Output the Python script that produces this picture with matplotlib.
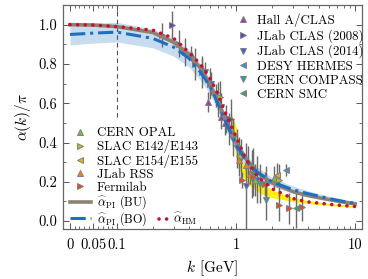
import numpy as np
import matplotlib
matplotlib.use("Agg")
import matplotlib.pyplot as plt
from matplotlib.lines import Line2D

plt.rcParams['font.family'] = ['cmr10', 'DejaVu Serif']
plt.rcParams['mathtext.fontset'] = 'cm'
plt.rcParams['axes.formatter.use_mathtext'] = True

# --- courbes theoriques ---
k_curve = [0, 0.05, 0.1, 0.2, 0.3, 0.4, 0.5, 0.6, 0.7, 0.8, 0.9, 1.0, 1.2, 1.5, 2, 3, 4, 6, 8, 10]
alpha_hm = [1.0, 0.998, 0.99, 0.972, 0.93, 0.86, 0.80, 0.73, 0.65, 0.56, 0.49, 0.43, 0.32, 0.23, 0.165, 0.115, 0.098, 0.086, 0.079, 0.075]
alpha_bu = [1.0, 0.998, 0.99, 0.96, 0.91, 0.85, 0.78, 0.70, 0.61, 0.53, 0.46, 0.40, 0.32, 0.25, 0.195, 0.15, 0.13, 0.11, 0.097, 0.088]
alpha_bo = [0.95, 0.957, 0.962, 0.93, 0.885, 0.83, 0.76, 0.69, 0.60, 0.52, 0.45, 0.39, 0.31, 0.25, 0.20, 0.16, 0.14, 0.115, 0.10, 0.09]
bo_half = [0.053, 0.051, 0.05, 0.048, 0.046, 0.044, 0.042, 0.04, 0.038, 0.036, 0.035, 0.034, 0.03, 0.026, 0.022, 0.018, 0.015, 0.012, 0.011, 0.01]

# bande jaune
k_yel = [0.9, 0.95, 1.0, 1.1, 1.3, 1.6, 2, 3, 4, 6, 10]
yel_lo = [0.50, 0.42, 0.31, 0.24, 0.18, 0.14, 0.12, 0.10, 0.09, 0.08, 0.068]
yel_hi = [0.56, 0.52, 0.48, 0.36, 0.27, 0.20, 0.16, 0.12, 0.105, 0.09, 0.08]

# --- donnees experimentales ---
hall_k = [0.42, 0.52, 0.58, 0.74, 0.80, 0.95]
hall_a = [0.853, 0.78, 0.605, 0.53, 0.50, 0.45]
hall_e = [0.04, 0.05, 0.05, 0.06, 0.06, 0.07]

clas08_k = [0.24, 0.29, 0.33, 0.37, 0.45, 0.52, 0.60, 0.70, 0.91]
clas08_a = [0.946, 0.997, 0.904, 0.862, 0.80, 0.76, 0.70, 0.62, 0.52]
clas08_e = [0.06, 0.07, 0.07, 0.07, 0.08, 0.08, 0.08, 0.09, 0.10]

clas14_k = [0.55, 0.62, 0.68, 0.75, 0.82, 0.88, 0.95, 1.02, 1.10, 1.22, 1.35, 1.50]
clas14_a = [0.76, 0.70, 0.64, 0.58, 0.52, 0.47, 0.42, 0.37, 0.32, 0.18, 0.24, 0.21]
clas14_e = [0.05, 0.06, 0.06, 0.07, 0.07, 0.08, 0.09, 0.10, 0.10, 0.22, 0.12, 0.12]

hermes_k = [1.8, 2.6]
hermes_a = [0.20, 0.26]
hermes_e = [0.08, 0.03]

compass_k = [1.6, 1.77]
compass_a = [0.19, 0.107]
compass_e = [0.10, 0.10]

smc_k = [1.4, 3.16]
smc_a = [0.25, 0.065]
smc_e = [0.12, 0.10]

opal_k = [1.45, 2.1]
opal_a = [0.21, 0.22]
opal_e = [0.08, 0.06]

e142_k = [0.73, 1.25, 2.3]
e142_a = [0.632, 0.28, 0.21]
e142_e = [0.08, 0.10, 0.08]

e154_k = [1.05, 2.2]
e154_a = [0.33, 0.234]
e154_e = [0.10, 0.06]

rss_k = [1.06, 1.2, 1.3]
rss_a = [0.31, 0.285, 0.24]
rss_e = [0.04, 0.05, 0.05]

ferm_k = [1.13, 1.4, 1.75, 2.28, 2.8, 3.57]
ferm_a = [0.209, 0.225, 0.19, 0.081, 0.065, 0.073]
ferm_e = [0.04, 0.05, 0.06, 0.08, 0.08, 0.07]

exp_haut = [
    ("Hall A/CLAS",      "^", "#9b3fa0", hall_k, hall_a, hall_e),
    ("JLab CLAS (2008)", ">", "#6a3fb5", clas08_k, clas08_a, clas08_e),
    ("JLab CLAS (2014)", "v", "#3f5fcf", clas14_k, clas14_a, clas14_e),
    ("DESY HERMES",      "<", "#4a90d0", hermes_k, hermes_a, hermes_e),
    ("CERN COMPASS",     "v", "#2aa0a0", compass_k, compass_a, compass_e),
    ("CERN SMC",         "<", "#3fa060", smc_k, smc_a, smc_e),
]
exp_bas = [
    ("CERN OPAL",        "^", "#7ac040", opal_k, opal_a, opal_e),
    ("SLAC E142/E143",   ">", "#b8c020", e142_k, e142_a, e142_e),
    ("SLAC E154/E155",   "<", "#e0b020", e154_k, e154_a, e154_e),
    ("JLab RSS",         "^", "#f08020", rss_k, rss_a, rss_e),
    ("Fermilab",         ">", "#e84a1a", ferm_k, ferm_a, ferm_e),
]

fig = plt.figure(figsize=(3.68, 2.79), dpi=100)
ax = fig.add_axes([63/368, 50/279, 298.5/368, 224/279])
ax.set_xscale('symlog', linthresh=0.1, linscale=0.355)

kc = np.array(k_curve)
bo = np.array(alpha_bo)
bh = np.array(bo_half)

ax.fill_between(k_yel, yel_lo, yel_hi, color='#ffee10', lw=0, zorder=1)
ax.fill_between(kc, bo - bh, bo + bh, color='#c8dcf0', lw=0, zorder=1.5)

ax.axvline(0.1, ymin=0.5, ymax=1, color='#505050', ls=(0, (4, 3)), lw=0.8, zorder=2)

mec = '#808080'


def poser(liste):
    handles = []
    for nom, m, c, kk, aa, ee in liste:
        ax.errorbar(kk, aa, yerr=ee, fmt='none', ecolor='#6a6a6a', elinewidth=1.0, zorder=2.5)
        ax.plot(kk, aa, ls='none', marker=m, ms=4.8, mfc=c, mec=mec, mew=0.7, zorder=3)
        handles.append(Line2D([], [], ls='none', marker=m, ms=4.8, mfc=c, mec=mec,
                              mew=0.7, label=nom))
    return handles


handles_haut = poser(exp_haut)
handles_bas = poser(exp_bas)

l_bu, = ax.plot(kc, alpha_bu, color='#8c8272', lw=2.6, zorder=4,
                label=r'$\widehat{\alpha}_{\rm PI}$ (BU)')
l_bo, = ax.plot(kc, alpha_bo, color='#1f6fc0', lw=2.2, ls=(0, (5, 1.6, 1, 1.6)), zorder=4.5,
                label=r'$\widehat{\alpha}_{\rm PI}$ (BO)')
l_hm, = ax.plot(kc, alpha_hm, color='#c8102e', lw=2.6, ls=(0, (0.01, 2.1)),
                dash_capstyle='round', zorder=5, label=r'$\widehat{\alpha}_{\rm HM}$')

ax.set_xlim(-0.0149, 11.3)
ax.set_ylim(-0.04, 1.1)

ax.set_xticks([0, 0.05, 0.1, 1, 10])
ax.set_xticklabels(['0', '0.05', '0.1', '1', '10'])
minx = [i * 0.01 for i in range(1, 10)] + [i * 0.1 for i in range(2, 10)] + list(range(2, 10))
ax.set_xticks(minx, minor=True)
ax.set_yticks([0.0, 0.2, 0.4, 0.6, 0.8, 1.0])
ax.set_yticklabels(['0.0', '0.2', '0.4', '0.6', '0.8', '1.0'])
ax.set_yticks([0.1, 0.3, 0.5, 0.7, 0.9], minor=True)

ax.tick_params(which='both', direction='in', top=True, right=True, color='#555555',
               labelsize=10.5)
ax.tick_params(axis='x', pad=7)
ax.tick_params(axis='y', pad=4)
ax.tick_params(which='major', length=4, width=0.7)
ax.tick_params(which='minor', length=2, width=0.6)
for s in ax.spines.values():
    s.set_color('#666666')
    s.set_linewidth(0.9)

ax.set_xlabel(r'$k$ [GeV]', fontsize=11, labelpad=4)
ax.set_ylabel(r'$\alpha(k)/\pi$', fontsize=11, labelpad=4)

opts = dict(frameon=False, borderpad=0, borderaxespad=0)
leg1 = ax.legend(handles=handles_haut, loc='upper left', bbox_to_anchor=(0.58, 0.962),
                 fontsize=9.3, handlelength=1.0, handletextpad=0.6, labelspacing=0.15, **opts)
ax.add_artist(leg1)
leg2 = ax.legend(handles=handles_bas, loc='upper left', bbox_to_anchor=(0.023, 0.455),
                 fontsize=9.3, handlelength=1.6, handletextpad=0.5, labelspacing=0.06, **opts)
ax.add_artist(leg2)
# lignes : une legende par ligne, centree sur sa rangee
for h, yc in [(l_bu, 0.118), (l_bo, 0.044)]:
    lg = ax.legend(handles=[h], loc='center left', bbox_to_anchor=(0.023, yc),
                   fontsize=8.8, handlelength=1.75, handletextpad=0.5, **opts)
    ax.add_artist(lg)
ax.legend(handles=[l_hm], loc='center left', bbox_to_anchor=(0.32, 0.044),
          fontsize=8.8, handlelength=0.8, handletextpad=0.4, **opts)

plt.savefig('out.png', dpi=100)
